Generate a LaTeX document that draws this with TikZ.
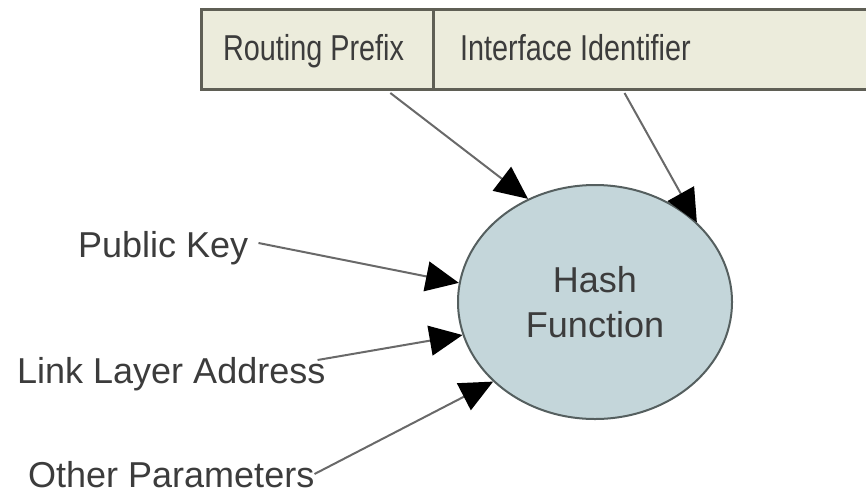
\documentclass[tikz,border=0pt]{standalone}
\usepackage{fontspec}
\setmainfont{Liberation Sans}
\usetikzlibrary{arrows.meta,calc,shapes.geometric}
\definecolor{boxfill}{RGB}{236,236,220}
\definecolor{boxline}{RGB}{95,95,85}
\definecolor{hashfill}{RGB}{196,214,218}
\definecolor{hashline}{RGB}{85,95,95}
\definecolor{txt}{RGB}{60,60,60}
\definecolor{conn}{RGB}{105,105,105}
\begin{document}
\begin{tikzpicture}[x=1pt,y=-1pt,
  cell/.style={draw=boxline,fill=boxfill,line width=3pt,rectangle,minimum height=80pt,anchor=north west,inner sep=0pt},
  lbl/.style={text=txt,font=\fontsize{36}{45}\selectfont,inner sep=0pt,anchor=base west},
  toplbl/.style={lbl,xscale=0.8},
  hashnode/.style={ellipse,draw=hashline,fill=hashfill,line width=2pt,minimum width=274pt,minimum height=234pt,inner sep=0pt,text=txt,font=\fontsize{36}{45}\selectfont,align=center},
  conn/.style={draw=conn,line width=2pt,-{Triangle[length=33pt,width=30pt,color=black]}}
]
\useasboundingbox (0,0) rectangle (866,493);
\node[cell,minimum width=232pt] (rp) at (200,8) {};
\node[cell,minimum width=450pt] (ii) at (432,8) {};
\node[toplbl] (rpt) at (223,60) {Routing Prefix};
\node[toplbl] (iit) at (460,60) {Interface Identifier};
\node[hashnode] (hash) at (595,302) {Hash\\Function};
\node[lbl] (pk) at (78,257) {Public Key};
\node[lbl] (lla) at (17,383) {Link Layer Address};
\node[lbl] (op) at (28,487) {Other Parameters};
\draw[conn] ($(rp.south west)!0.81!(rp.south east)+(0,2)$) -- (hash.123);
\draw[conn] ($(ii.south west)!0.425!(ii.south east)+(0,2)$) -- (hash.38);
\draw[conn] ($(pk.base east)+(10,-14)$) -- (hash.172);
\draw[conn] ($(lla.base east)+(-8,-23)$) -- (hash.194);
\draw[conn] ($(op.base east)+(0,-13)$) -- (hash.218);
\end{tikzpicture}
\end{document}
